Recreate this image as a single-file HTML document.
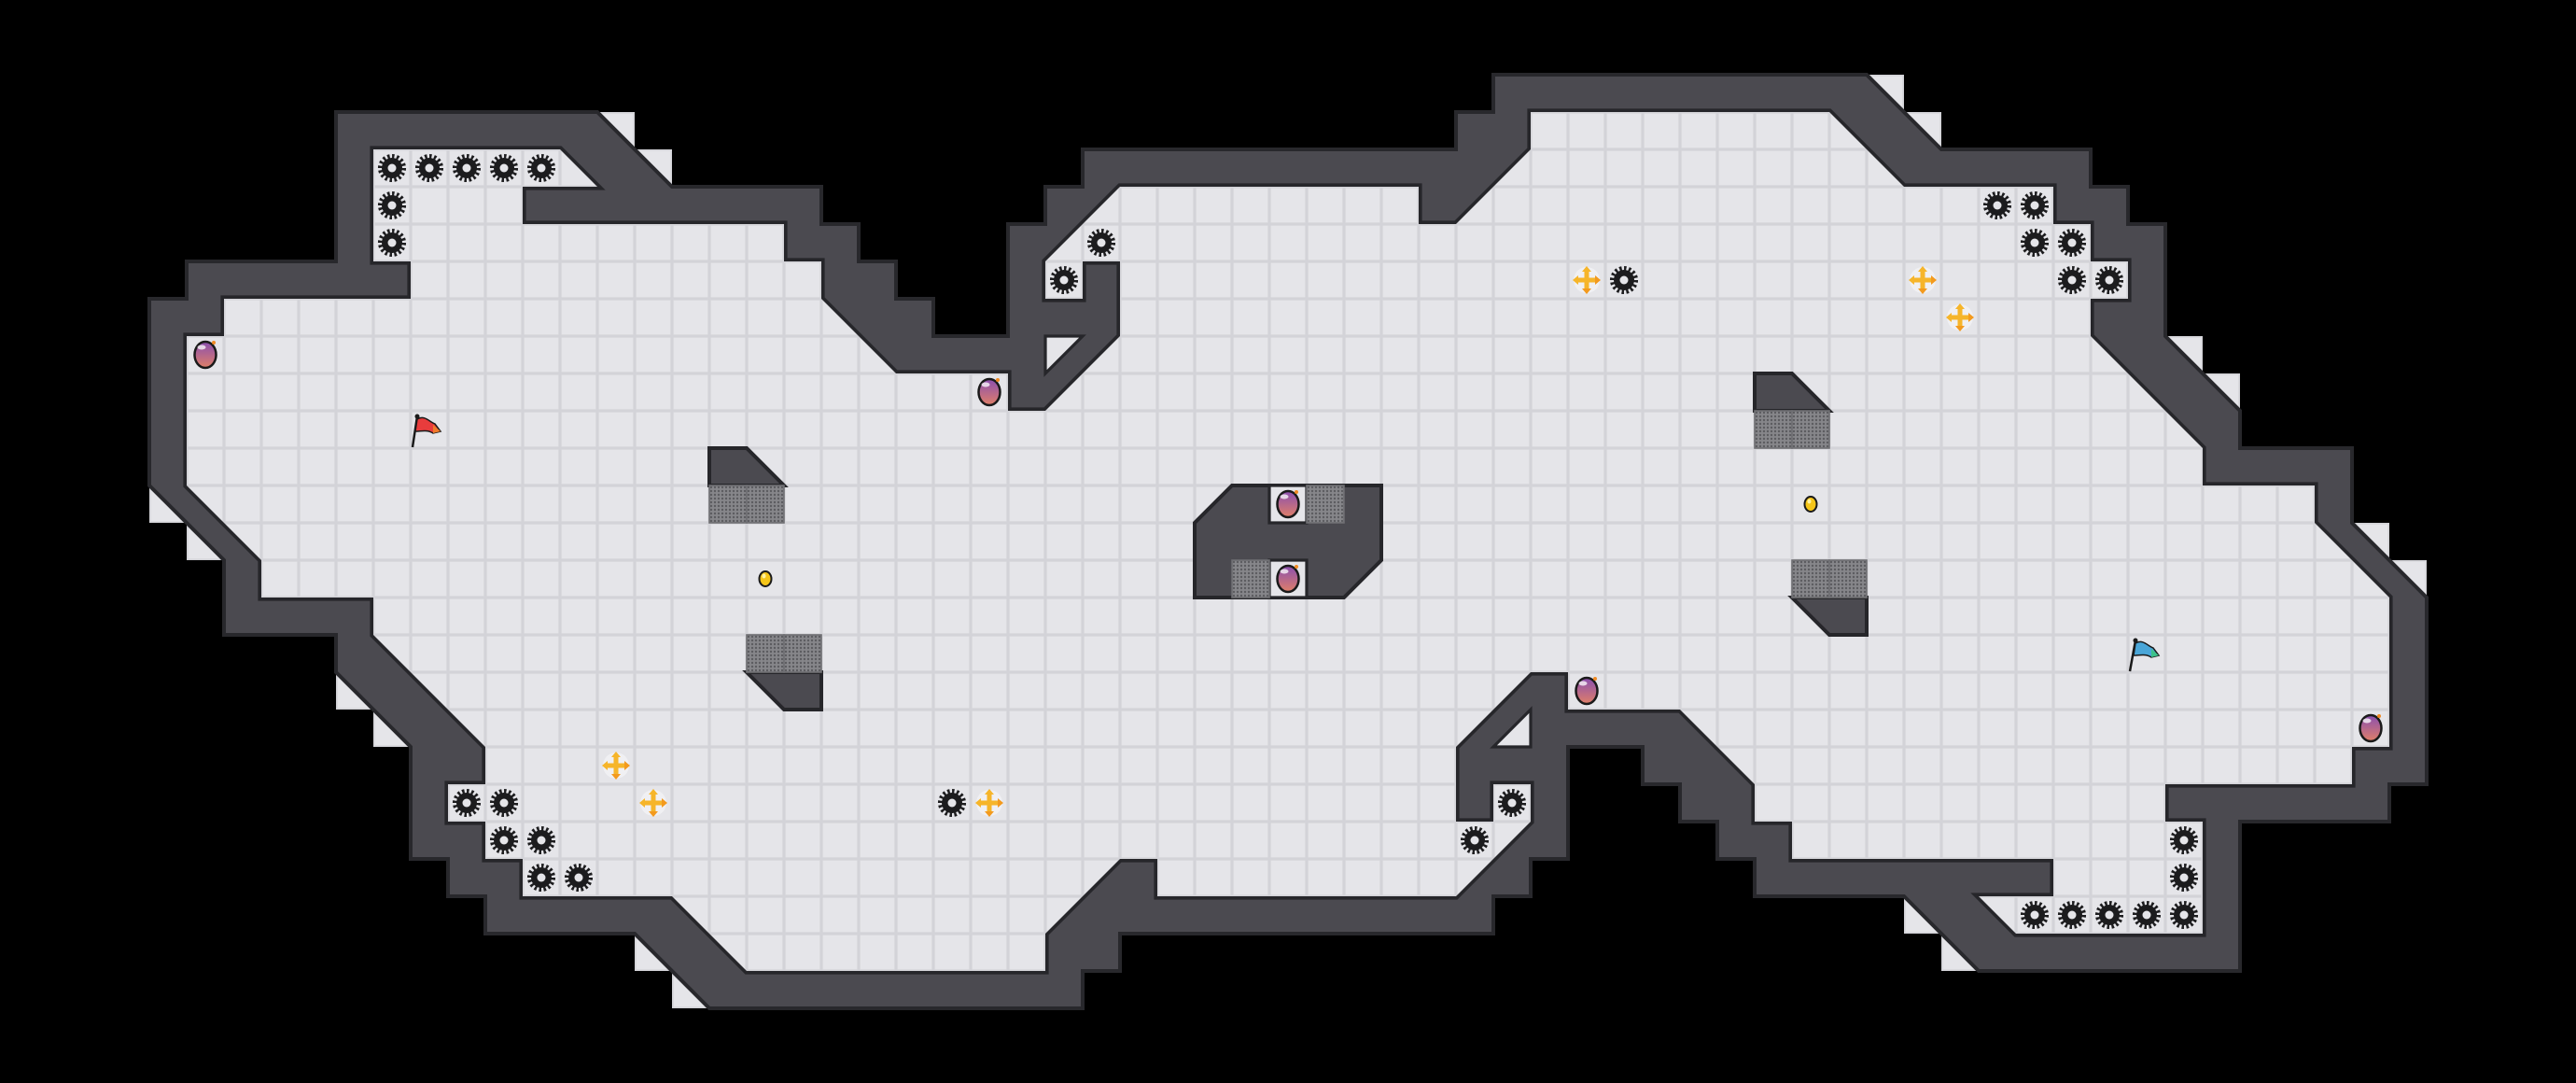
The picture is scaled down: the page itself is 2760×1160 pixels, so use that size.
<!DOCTYPE html>
<html><head><meta charset="utf-8"><style>html,body{margin:0;padding:0;background:#000;}svg{display:block}</style></head>
<body>
<svg xmlns="http://www.w3.org/2000/svg" width="2760" height="1160" viewBox="0 0 2760 1160">
<defs>
<pattern id="fl" patternUnits="userSpaceOnUse" width="1" height="1">
<rect width="1" height="1" fill="#d3d3d8"/><rect x="0.04" y="0.04" width="0.92" height="0.92" fill="#e5e5e9"/>
</pattern>
<pattern id="dots" patternUnits="userSpaceOnUse" width="0.1" height="0.1">
<rect width="0.1" height="0.1" fill="#86868a"/><circle cx="0.05" cy="0.05" r="0.03" fill="#5c5c60"/>
</pattern>
<linearGradient id="bg" x1="0" y1="0" x2="0" y2="1"><stop offset="0" stop-color="#8a4fb0"/><stop offset="1" stop-color="#e07f68"/></linearGradient>
<g id="gear"><circle r="11" fill="#1c1c1e"/><circle r="12.8" fill="none" stroke="#1c1c1e" stroke-width="4.5" stroke-dasharray="2.5 2.5"/><circle r="4.5" fill="#e5e5e9"/></g>
<g id="bomb"><ellipse rx="11.5" ry="14" fill="url(#bg)" stroke="#1a1a1a" stroke-width="2.5"/><ellipse cx="-4" cy="-8" rx="4.5" ry="2.5" fill="#fff" opacity=".75"/><circle cx="9" cy="-13" r="2" fill="#f08a24"/></g>
<g id="cross"><circle r="14" fill="#f3f3f5" opacity=".8"/><path d="M-2.5,-10 h5 v7.5 h7.5 v5 h-7.5 v7.5 h-5 v-7.5 h-7.5 v-5 h7.5z" fill="#f6b52a"/><polygon points="0,-15 -5,-9 5,-9" fill="#f6b52a"/><polygon points="0,15 -5,9 5,9" fill="#f39a1e"/><polygon points="-15,0 -9,-5 -9,5" fill="#f6b52a"/><polygon points="15,0 9,-5 9,5" fill="#f39a1e"/></g>
<g id="coin"><ellipse rx="6.5" ry="8" fill="#f5c518" stroke="#1a1a1a" stroke-width="2"/><ellipse cx="-1.5" cy="-3" rx="2" ry="2.5" fill="#fff3a0"/></g>
</defs>
<rect width="2760" height="1160" fill="#000"/>
<g transform="scale(40)">
<g fill="url(#fl)">
<polygon points="16,3 17,3 17,4"/><polygon points="17,4 18,4 18,5"/>
<polygon points="50,2 51,2 51,3"/><polygon points="51,3 52,3 52,4"/>
<polygon points="58,9 59,9 59,10"/><polygon points="59,10 60,10 60,11"/>
<polygon points="63,14 64,14 64,15"/><polygon points="64,15 65,15 65,16"/>
<polygon points="51,24 51,25 52,25"/><polygon points="52,25 52,26 53,26"/>
<polygon points="4,13 4,14 5,14"/><polygon points="5,14 5,15 6,15"/>
<polygon points="9,18 9,19 10,19"/><polygon points="10,19 10,20 11,20"/>
<polygon points="17,25 17,26 18,26"/><polygon points="18,26 18,27 19,27"/>
</g>
<polygon points="9,3 16,3 18,5 22,5 22,6 23,6 23,7 24,7 24,8 25,8 25,9 27,9 27,6 28,6 28,5 29,5 29,4 39,4 39,3 40,3 40,2 50,2 52,4 56,4 56,5 57,5 57,6 58,6 58,9 60,11 60,12 63,12 63,14 65,16 65,21 64,21 64,22 60,22 60,26 53,26 51,24 47,24 47,23 46,23 46,22 45,22 45,21 44,21 44,20 42,20 42,23 41,23 41,24 40,24 40,25 30,25 30,26 29,26 29,27 19,27 17,25 13,25 13,24 12,24 12,23 11,23 11,20 9,18 9,17 6,17 6,15 4,13 4,8 5,8 5,7 9,7" fill="#4b4a50" stroke="#28282c" stroke-width="0.1" stroke-linejoin="miter"/>
<polygon points="10,4 15,4 16,5 14,5 14,6 21,6 21,7 22,7 22,8 24,10 27,10 27,11 28,11 30,9 30,7 29,7 29,8 28,8 28,7 30,5 38,5 38,6 39,6 41,4 41,3 49,3 51,5 55,5 55,6 56,6 56,7 57,7 57,8 56,8 56,9 59,12 59,13 62,13 62,14 64,16 64,20 63,20 63,21 58,21 58,22 59,22 59,25 54,25 53,24 55,24 55,23 48,23 48,22 47,22 47,21 45,19 42,19 42,18 41,18 39,20 39,22 40,22 40,21 41,21 41,22 39,24 31,24 31,23 30,23 28,25 28,26 20,26 18,24 14,24 14,23 13,23 13,22 12,22 12,21 13,21 13,20 10,17 10,16 7,16 7,15 5,13 5,9 6,9 6,8 11,8 11,7 10,7" fill="none" stroke="#26262a" stroke-width="0.18" stroke-linejoin="miter"/>
<polygon points="10,4 15,4 16,5 14,5 14,6 21,6 21,7 22,7 22,8 24,10 27,10 27,11 28,11 30,9 30,7 29,7 29,8 28,8 28,7 30,5 38,5 38,6 39,6 41,4 41,3 49,3 51,5 55,5 55,6 56,6 56,7 57,7 57,8 56,8 56,9 59,12 59,13 62,13 62,14 64,16 64,20 63,20 63,21 58,21 58,22 59,22 59,25 54,25 53,24 55,24 55,23 48,23 48,22 47,22 47,21 45,19 42,19 42,18 41,18 39,20 39,22 40,22 40,21 41,21 41,22 39,24 31,24 31,23 30,23 28,25 28,26 20,26 18,24 14,24 14,23 13,23 13,22 12,22 12,21 13,21 13,20 10,17 10,16 7,16 7,15 5,13 5,9 6,9 6,8 11,8 11,7 10,7" fill="url(#fl)"/>
<polygon points="28,9 29,9 28,10" fill="url(#fl)" stroke="#26262a" stroke-width="0.08"/>
<polygon points="41,19 41,20 40,20" fill="url(#fl)" stroke="#26262a" stroke-width="0.08"/>
<g fill="#4b4a50" stroke="#26262a" stroke-width="0.1" stroke-linejoin="miter">
<polygon points="19,12 20,12 21,13 19,13"/>
<polygon points="20,18 22,18 22,19 21,19"/>
<polygon points="33,13 37,13 37,15 36,16 32,16 32,14"/>
<polygon points="47,10 48,10 49,11 47,11"/>
<polygon points="48,16 50,16 50,17 49,17"/>
</g>
<g fill="url(#fl)" stroke="#26262a" stroke-width="0.08">
<rect x="34" y="13" width="1" height="1"/><rect x="34" y="15" width="1" height="1"/>
</g>
<g fill="url(#dots)" stroke="#6e6e72" stroke-width="0.04">
<rect x="19" y="13" width="1" height="1"/><rect x="20" y="13" width="1" height="1"/>
<rect x="20" y="17" width="1" height="1"/><rect x="21" y="17" width="1" height="1"/>
<rect x="35" y="13" width="1" height="1"/><rect x="33" y="15" width="1" height="1"/>
<rect x="47" y="11" width="1" height="1"/><rect x="48" y="11" width="1" height="1"/>
<rect x="48" y="15" width="1" height="1"/><rect x="49" y="15" width="1" height="1"/>
</g>
</g>
<use href="#gear" x="420" y="180"/><use href="#gear" x="460" y="180"/><use href="#gear" x="500" y="180"/><use href="#gear" x="540" y="180"/><use href="#gear" x="580" y="180"/>
<use href="#gear" x="420" y="220"/><use href="#gear" x="420" y="260"/>
<use href="#gear" x="1180" y="260"/><use href="#gear" x="1140" y="300"/>
<use href="#gear" x="1740" y="300"/>
<use href="#gear" x="2140" y="220"/><use href="#gear" x="2180" y="220"/><use href="#gear" x="2180" y="260"/><use href="#gear" x="2220" y="260"/><use href="#gear" x="2220" y="300"/><use href="#gear" x="2260" y="300"/>
<use href="#gear" x="500" y="860"/><use href="#gear" x="540" y="860"/><use href="#gear" x="540" y="900"/><use href="#gear" x="580" y="900"/><use href="#gear" x="580" y="940"/><use href="#gear" x="620" y="940"/>
<use href="#gear" x="1020" y="860"/>
<use href="#gear" x="1620" y="860"/><use href="#gear" x="1580" y="900"/>
<use href="#gear" x="2340" y="900"/><use href="#gear" x="2340" y="940"/>
<use href="#gear" x="2180" y="980"/><use href="#gear" x="2220" y="980"/><use href="#gear" x="2260" y="980"/><use href="#gear" x="2300" y="980"/><use href="#gear" x="2340" y="980"/>
<use href="#cross" x="660" y="820"/><use href="#cross" x="700" y="860"/><use href="#cross" x="1060" y="860"/>
<use href="#cross" x="1700" y="300"/><use href="#cross" x="2060" y="300"/><use href="#cross" x="2100" y="340"/>
<use href="#bomb" x="220" y="380"/><use href="#bomb" x="1060" y="420"/><use href="#bomb" x="1380" y="540"/><use href="#bomb" x="1380" y="620"/><use href="#bomb" x="1700" y="740"/><use href="#bomb" x="2540" y="780"/>
<use href="#coin" x="820" y="620"/><use href="#coin" x="1940" y="540"/>
<g>
<line x1="447" y1="446" x2="442" y2="479" stroke="#1a1a1a" stroke-width="2.5"/>
<circle cx="447" cy="446" r="2.5" fill="#1a1a1a"/>
<path d="M447,449 C455,444 460,452 466,454 L472,462 L464,464 C458,460 452,462 445,462 Z" fill="#e83c3c" stroke="#1a1a1a" stroke-width="1.5"/>
<path d="M464,455 L472,462 L464,464 Z" fill="#f07a2a"/>
</g>
<g>
<line x1="2288" y1="686" x2="2282" y2="719" stroke="#1a1a1a" stroke-width="2.5"/>
<circle cx="2288" cy="686" r="2.5" fill="#1a1a1a"/>
<path d="M2288,689 C2296,684 2301,692 2307,694 L2313,702 L2305,704 C2299,700 2293,702 2286,702 Z" fill="#4aa6d8" stroke="#1a1a1a" stroke-width="1.5"/>
<path d="M2305,695 L2313,702 L2305,704 Z" fill="#3cc28a"/>
</g>
</svg>
</body></html>
